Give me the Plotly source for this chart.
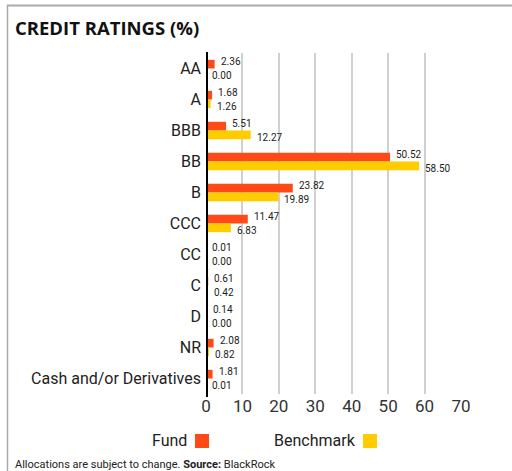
import plotly.graph_objects as go

categories = ["AA", "A", "BBB", "BB", "B", "CCC", "CC", "C", "D", "NR", "Cash and/or Derivatives"]
fund = [2.36, 1.68, 5.51, 50.52, 23.82, 11.47, 0.01, 0.61, 0.14, 2.08, 1.81]
benchmark = [0.00, 1.26, 12.27, 58.50, 19.89, 6.83, 0.00, 0.42, 0.00, 0.82, 0.01]
x_ticks = [0, 10, 20, 30, 40, 50, 60, 70]

FUND_C = "#FF4A17"
BENCH_C = "#FFCC00"
FONT = "Roboto"

W, H = 512, 471
L, R, T, B = 206, 51, 53, 77
pw, ph = W - L - R, H - T - B

def px(x):
    return (x - L) / pw

def py(y):
    return (H - B - y) / ph

fig = go.Figure()
fig.add_trace(go.Bar(
    y=categories, x=fund, orientation="h", name="Fund",
    marker=dict(color=FUND_C, line=dict(width=0)),
))
fig.add_trace(go.Bar(
    y=categories, x=benchmark, orientation="h", name="Benchmark",
    marker=dict(color=BENCH_C, line=dict(width=0)),
))

shapes = [
    # black baseline
    dict(type="line", xref="x", yref="paper", x0=0, x1=0, y0=py(397), y1=py(52),
         line=dict(color="black", width=4), layer="above"),
    # frame lines
    dict(type="line", xref="paper", yref="paper", x0=px(7), x1=px(W + 5), y0=py(5.5), y1=py(5.5),
         line=dict(color="#aaaaaa", width=2)),
    dict(type="line", xref="paper", yref="paper", x0=px(7.5), x1=px(7.5), y0=py(5), y1=py(H + 5),
         line=dict(color="#aaaaaa", width=1.5)),
    # legend squares
    dict(type="rect", xref="paper", yref="paper", x0=px(195), x1=px(209), y0=py(448), y1=py(434),
         fillcolor=FUND_C, line=dict(width=0)),
    dict(type="rect", xref="paper", yref="paper", x0=px(363), x1=px(377), y0=py(448), y1=py(434),
         fillcolor=BENCH_C, line=dict(width=0)),
]

annotations = [
    dict(text="<b>CREDIT RATINGS (%)</b>", xref="paper", yref="paper", x=px(13), y=py(27),
         xanchor="left", yanchor="middle", showarrow=False,
         font=dict(size=18.5, color="#111", family="Open Sans", weight=800)),
    dict(text="Fund", xref="paper", yref="paper", x=px(189), y=py(441),
         xanchor="right", yanchor="middle", showarrow=False,
         font=dict(size=16, color="#222", family=FONT)),
    dict(text="Benchmark", xref="paper", yref="paper", x=px(358), y=py(441),
         xanchor="right", yanchor="middle", showarrow=False,
         font=dict(size=16, color="#222", family=FONT)),
    dict(text="Allocations are subject to change. <b>Source:</b> BlackRock", xref="paper", yref="paper",
         x=px(13), y=py(464), xanchor="left", yanchor="middle", showarrow=False,
         font=dict(size=11, color="#222", family=FONT)),
]

# value labels next to the bars
for cat, f, b in zip(categories, fund, benchmark):
    annotations.append(dict(text=f"{f:.2f}", x=f, y=cat, xref="x", yref="y",
                            xanchor="left", yanchor="middle", xshift=4, yshift=7,
                            showarrow=False, font=dict(size=10, color="#222", family=FONT)))
    annotations.append(dict(text=f"{b:.2f}", x=b, y=cat, xref="x", yref="y",
                            xanchor="left", yanchor="middle", xshift=4, yshift=-7,
                            showarrow=False, font=dict(size=10, color="#222", family=FONT)))

fig.update_layout(
    width=W, height=H,
    margin=dict(l=L, r=R, t=T, b=B, autoexpand=False),
    paper_bgcolor="white", plot_bgcolor="white",
    barmode="group", bargap=0.44, bargroupgap=0,
    showlegend=False,
    shapes=shapes, annotations=annotations,
    xaxis=dict(range=[0, 70], tickvals=x_ticks, showgrid=True, gridcolor="#d0d0d0", gridwidth=1.5,
               zeroline=False, showline=False, ticks="",
               tickfont=dict(size=17, color="#333", family=FONT)),
    yaxis=dict(autorange="reversed", showgrid=False, zeroline=False, showline=False, ticks="",
               ticklabelstandoff=4,
               tickfont=dict(size=16, color="#222", family=FONT)),
    font=dict(family=FONT),
)

fig.write_html("out.html", config={"displayModeBar": False},
               post_script="document.body.style.margin='0';document.body.style.overflow='hidden';")
